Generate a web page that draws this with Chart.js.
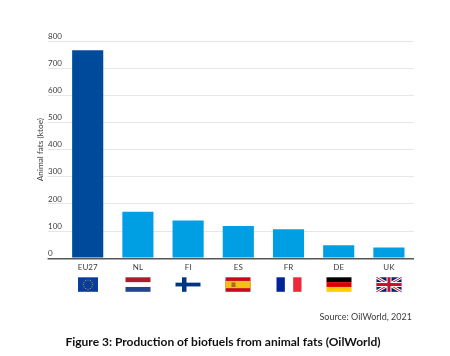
<!DOCTYPE html>
<html>
<head>
<meta charset="utf-8">
<style>
  html, body { margin: 0; padding: 0; background: #fff; }
  #wrap { width: 450px; height: 356px; }
</style>
<script src="https://cdn.jsdelivr.net/npm/chart.js@4"></script>
</head>
<body>
<div id="wrap"><canvas id="fatsChart" width="450" height="356"></canvas></div>
<script>
const countries = ["EU27", "NL", "FI", "ES", "FR", "DE", "UK"];
const fatsKtoe = [766, 171, 139, 119, 107, 48, 40];
const barColors = ["#004a9b", "#009fe3", "#009fe3", "#009fe3", "#009fe3", "#009fe3", "#009fe3"];
const flagCodes = ["eu", "nl", "fi", "es", "fr", "de", "uk"];

const FONT = "Lato, sans-serif";
const TEXT = "#3c3c3c";

// little flag drawings, w x h box with top left at 0,0
const flags = {
  eu(c, w, h) {
    w = 20;
    c.translate(2.5, 0);
    c.fillStyle = "#0b3a9e";
    c.fillRect(0, 0, w, h);
    c.fillStyle = "#c9b94a";
    for (let i = 0; i < 12; i++) {
      const a = (i * Math.PI) / 6;
      c.beginPath();
      c.arc(w / 2 + Math.cos(a) * 4.6, h / 2 + Math.sin(a) * 4.6, 0.5, 0, 7);
      c.fill();
    }
  },
  nl(c, w, h) {
    c.fillStyle = "#ae1c28";
    c.fillRect(0, 0, w, h / 3);
    c.fillStyle = "#21468b";
    c.fillRect(0, (h * 2) / 3, w, h / 3);
  },
  fi(c, w, h) {
    c.fillStyle = "#003580";
    c.fillRect(0, h * 0.37, w, h * 0.26);
    c.fillRect(w * 0.26, 0, w * 0.18, h);
  },
  es(c, w, h) {
    c.fillStyle = "#c60b1e";
    c.fillRect(0, 0, w, h);
    c.fillStyle = "#f4bf1d";
    c.fillRect(0, h / 4, w, h / 2);
    c.fillStyle = "#b5622a";
    c.fillRect(w * 0.24, h * 0.35, w * 0.16, h * 0.32);
  },
  fr(c, w, h) {
    c.fillStyle = "#002395";
    c.fillRect(0, 0, w / 3, h);
    c.fillStyle = "#ed2939";
    c.fillRect((w * 2) / 3, 0, w / 3, h);
  },
  de(c, w, h) {
    c.fillStyle = "#000";
    c.fillRect(0, 0, w, h / 3);
    c.fillStyle = "#dd0000";
    c.fillRect(0, h / 3, w, h / 3);
    c.fillStyle = "#ffce00";
    c.fillRect(0, (h * 2) / 3, w, h / 3);
  },
  uk(c, w, h) {
    c.fillStyle = "#012169";
    c.fillRect(0, 0, w, h);
    c.strokeStyle = "#fff";
    c.lineWidth = 3;
    c.beginPath();
    c.moveTo(0, 0); c.lineTo(w, h);
    c.moveTo(w, 0); c.lineTo(0, h);
    c.stroke();
    c.strokeStyle = "#c8102e";
    c.lineWidth = 1;
    c.stroke();
    c.fillStyle = "#fff";
    c.fillRect(w / 2 - 2.5, 0, 5, h);
    c.fillRect(0, h / 2 - 2.5, w, 5);
    c.fillStyle = "#c8102e";
    c.fillRect(w / 2 - 1.5, 0, 3, h);
    c.fillRect(0, h / 2 - 1.5, w, 3);
  },
};

// flags sit in a row under the category labels
const flagRow = {
  id: "flagRow",
  afterLayout(chart) {
    // caption is centred a bit left of the plot, source ends just short of it
    chart.titleBlock.left -= 16;
    const source = chart.boxes.find((b) => b.options && b.options.align === "end");
    source.right -= 2;
  },
  afterDraw(chart) {
    const c = chart.ctx;
    const xScale = chart.scales.x;
    flagCodes.forEach((code, i) => {
      c.save();
      c.translate(Math.round(xScale.getPixelForValue(i)) - 12.5, 277.3);
      flags[code](c, 25, 14.5);
      c.restore();
    });
  },
};

new Chart(document.getElementById("fatsChart"), {
  type: "bar",
  data: {
    labels: countries,
    datasets: [
      {
        data: fatsKtoe,
        backgroundColor: barColors,
        categoryPercentage: 1,
        barPercentage: 0.62,
      },
    ],
  },
  plugins: [flagRow],
  options: {
    responsive: false,
    animation: false,
    layout: { padding: { left: 48, right: 36, top: 41, bottom: 6.5 } },
    plugins: {
      legend: { display: false },
      tooltip: { enabled: false },
      title: {
        display: true,
        position: "bottom",
        text: "Figure 3: Production of biofuels from animal fats (OilWorld)",
        color: "#111111",
        font: { family: FONT, size: 12, weight: "bold" },
        padding: { top: 13, bottom: 0 },
      },
      subtitle: {
        display: true,
        position: "bottom",
        align: "end",
        text: "Source: OilWorld, 2021",
        color: TEXT,
        font: { family: FONT, size: 9, weight: "normal" },
        padding: { top: 0, bottom: 0 },
      },
    },
    scales: {
      x: {
        grid: { display: false, drawTicks: false },
        border: { display: false },
        ticks: {
          color: TEXT,
          padding: 4,
          maxRotation: 0,
          font: { family: FONT, size: 8 },
        },
        afterFit(scale) {
          scale.height = 53;
        },
      },
      y: {
        min: 0,
        max: 800,
        border: { display: false },
        grid: {
          color: (ctx) => (ctx.tick.value === 0 ? "#555555" : "#e6e6e6"),
          tickColor: (ctx) => (ctx.tick.value === 0 ? "#555555" : "#e6e6e6"),
          lineWidth: (ctx) => (ctx.tick.value === 0 ? 1.5 : 1),
          tickLength: 15,
        },
        ticks: {
          stepSize: 100,
          color: TEXT,
          crossAlign: "far",
          padding: 0,
          font: { family: FONT, size: 8, lineHeight: 1.25 },
          // empty second line lifts the number above its grid line
          callback: (v) => [String(v), ""],
        },
        title: {
          display: true,
          text: "Animal fats (ktoe)",
          color: TEXT,
          font: { family: FONT, size: 8.3 },
          padding: { top: -13, bottom: 13 },
        },
        afterFit(scale) {
          scale.width = 14.6;
        },
      },
    },
  },
});
</script>
</body>
</html>
